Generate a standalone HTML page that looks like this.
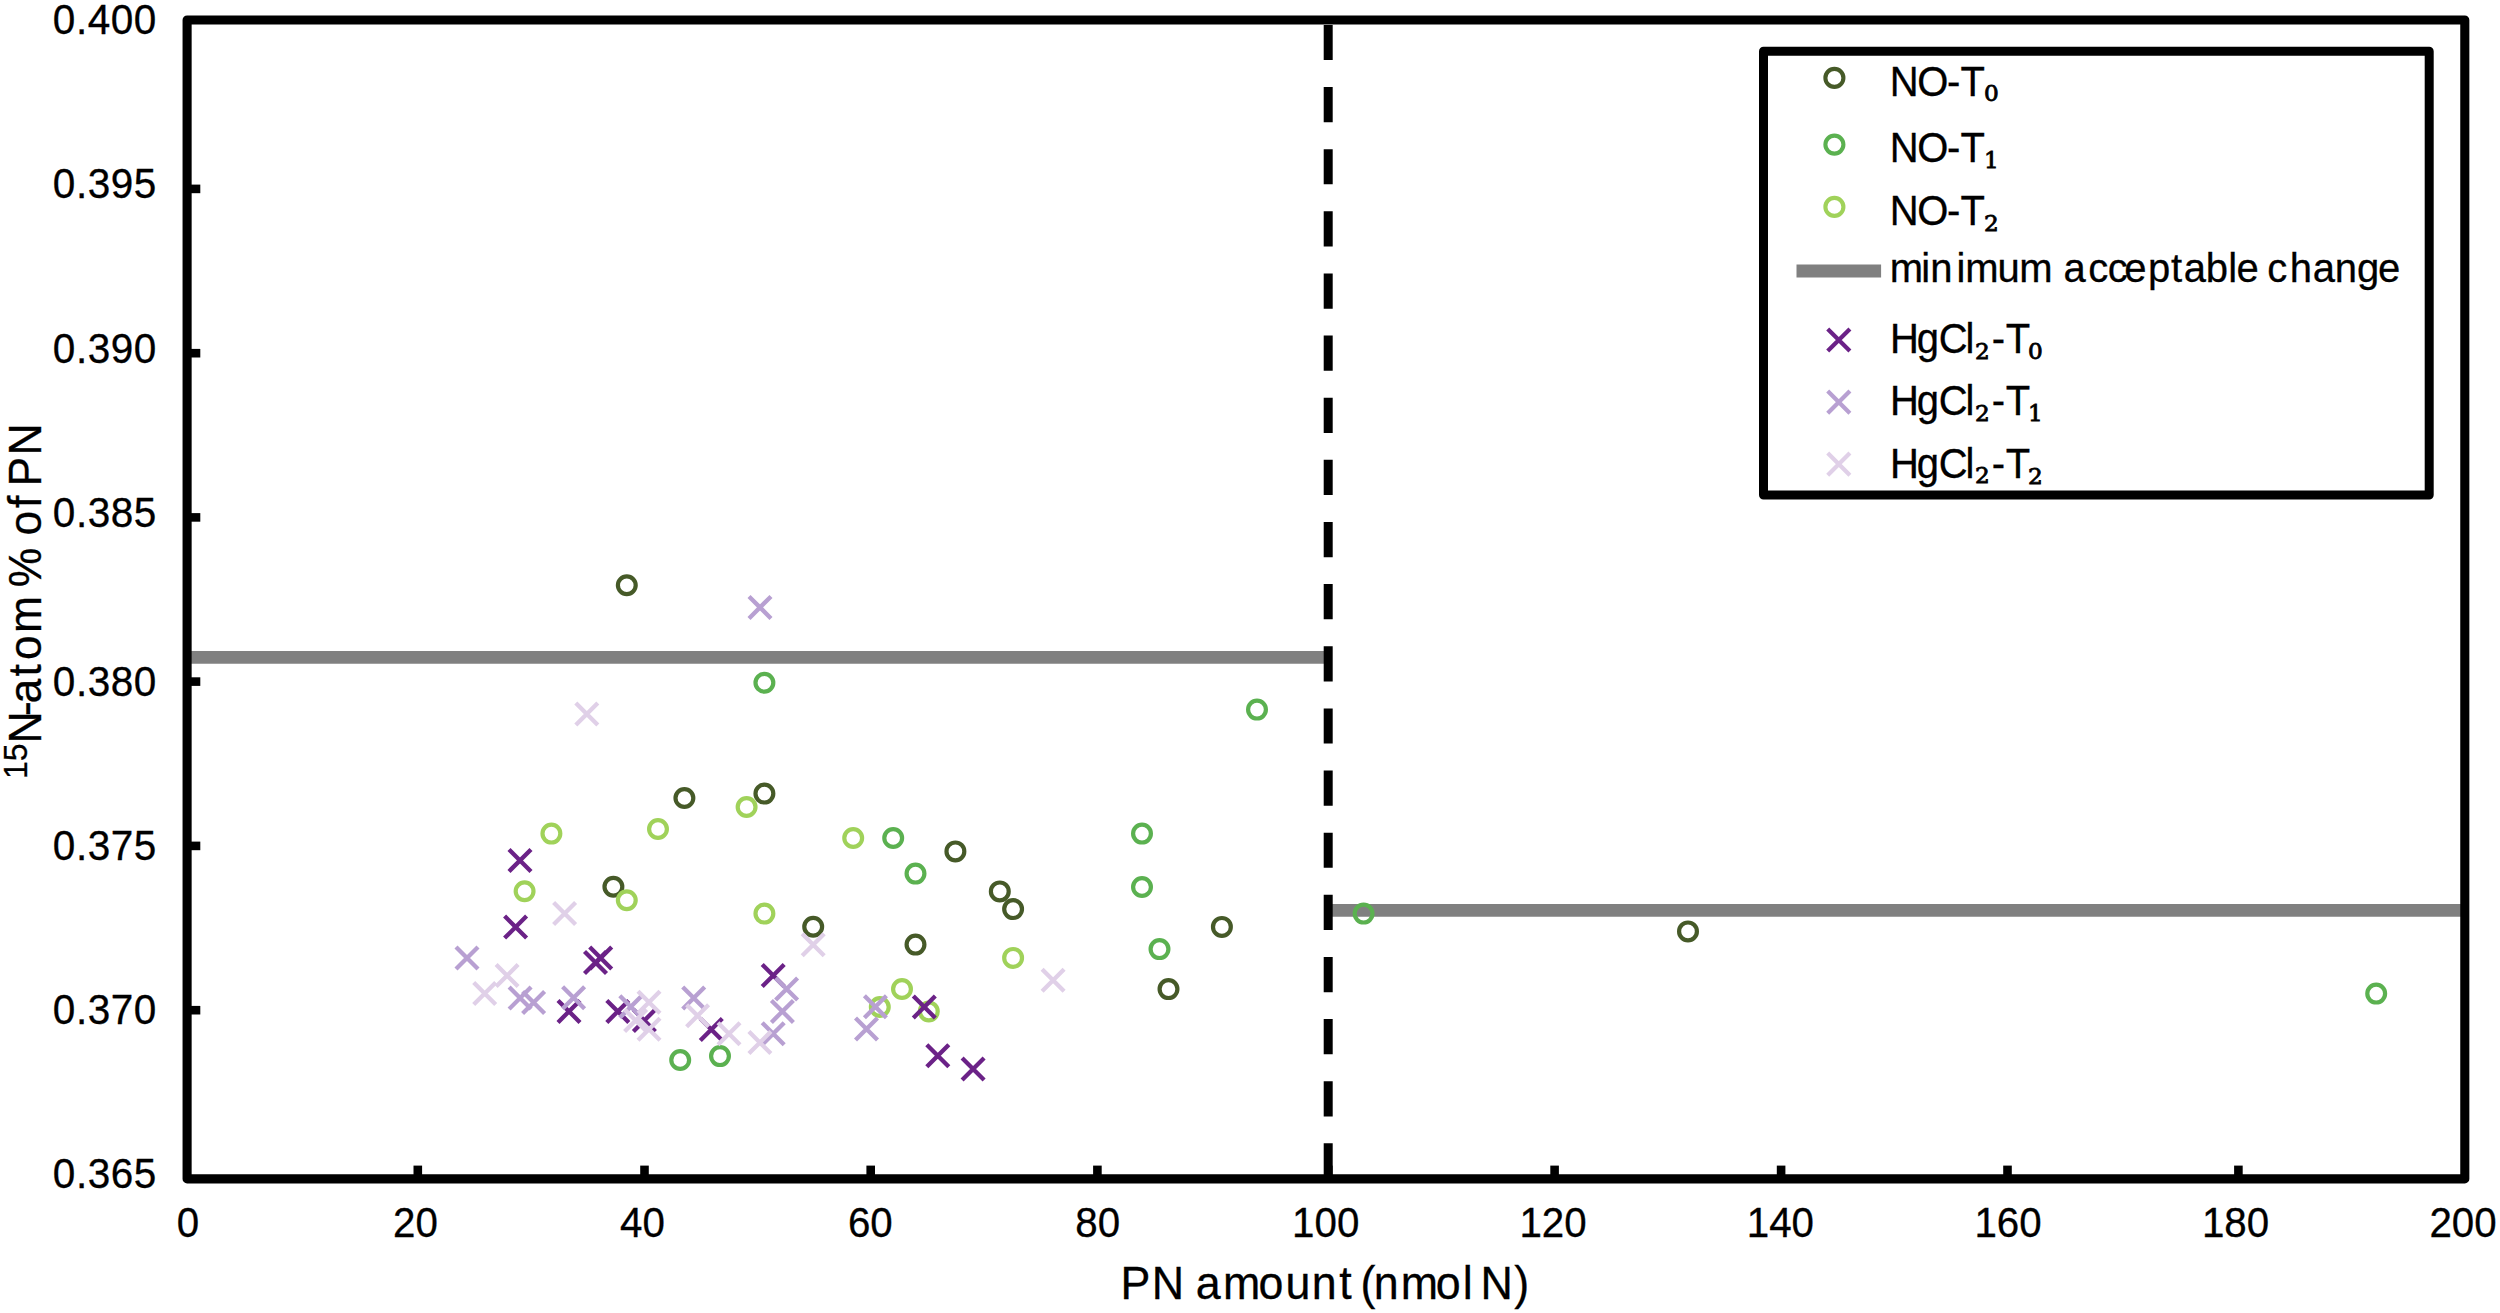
<!DOCTYPE html>
<html lang="en"><head><meta charset="utf-8"><title>15N-atom % of PN vs PN amount</title>
<style>html,body{margin:0;padding:0;background:#fff}svg{display:block}text{font-family:"Liberation Sans", sans-serif;fill:#000}.s{font-family:"DejaVu Serif", "Liberation Serif", serif}</style></head><body>
<svg width="2500" height="1313" viewBox="0 0 2500 1313">
<rect width="2500" height="1313" fill="#fff"/>
<g stroke="#808080" stroke-width="12.8" fill="none">
<line x1="187" y1="657.4" x2="1326" y2="657.4"/>
<line x1="1330" y1="910.3" x2="2465" y2="910.3"/>
</g>
<g stroke="#000" stroke-width="8.6" fill="none">
<line x1="187" y1="188.9" x2="200.3" y2="188.9"/>
<line x1="187" y1="353.2" x2="200.3" y2="353.2"/>
<line x1="187" y1="517.4" x2="200.3" y2="517.4"/>
<line x1="187" y1="681.6" x2="200.3" y2="681.6"/>
<line x1="187" y1="845.9" x2="200.3" y2="845.9"/>
<line x1="187" y1="1010.2" x2="200.3" y2="1010.2"/>
<line x1="417.8" y1="1179" x2="417.8" y2="1165.6"/>
<line x1="644.5" y1="1179" x2="644.5" y2="1165.6"/>
<line x1="870.7" y1="1179" x2="870.7" y2="1165.6"/>
<line x1="1097.4" y1="1179" x2="1097.4" y2="1165.6"/>
<line x1="1328.3" y1="1179" x2="1328.3" y2="1165.6"/>
<line x1="1554.6" y1="1179" x2="1554.6" y2="1165.6"/>
<line x1="1781.1" y1="1179" x2="1781.1" y2="1165.6"/>
<line x1="2007.5" y1="1179" x2="2007.5" y2="1165.6"/>
<line x1="2238.4" y1="1179" x2="2238.4" y2="1165.6"/>
</g>
<g fill="none" stroke="#465a28" stroke-width="4.2">
<circle cx="626.8" cy="585.2" r="8.9"/>
<circle cx="684.4" cy="798" r="8.9"/>
<circle cx="764.4" cy="793.6" r="8.9"/>
<circle cx="613.4" cy="886.8" r="8.9"/>
<circle cx="813.2" cy="926.8" r="8.9"/>
<circle cx="915.5" cy="944.6" r="8.9"/>
<circle cx="955.4" cy="851.4" r="8.9"/>
<circle cx="999.8" cy="891.4" r="8.9"/>
<circle cx="1013.1" cy="909.1" r="8.9"/>
<circle cx="1221.9" cy="926.9" r="8.9"/>
<circle cx="1168.5" cy="989.1" r="8.9"/>
<circle cx="1688" cy="931.4" r="8.9"/>
</g>
<g fill="none" stroke="#5bb150" stroke-width="4.2">
<circle cx="764.4" cy="682.8" r="8.9"/>
<circle cx="893.2" cy="838" r="8.9"/>
<circle cx="915.5" cy="873.6" r="8.9"/>
<circle cx="1257" cy="709.6" r="8.9"/>
<circle cx="1142" cy="833.6" r="8.9"/>
<circle cx="1142" cy="887" r="8.9"/>
<circle cx="1363.6" cy="913.6" r="8.9"/>
<circle cx="1159.5" cy="949.1" r="8.9"/>
<circle cx="2376.2" cy="993.6" r="8.9"/>
<circle cx="680.2" cy="1060" r="8.9"/>
<circle cx="720" cy="1056.1" r="8.9"/>
</g>
<g fill="none" stroke="#a0d25a" stroke-width="4.2">
<circle cx="746.6" cy="807" r="8.9"/>
<circle cx="658" cy="829" r="8.9"/>
<circle cx="551.4" cy="833.6" r="8.9"/>
<circle cx="853.2" cy="838" r="8.9"/>
<circle cx="524.6" cy="891.2" r="8.9"/>
<circle cx="626.8" cy="900.2" r="8.9"/>
<circle cx="764.4" cy="913.6" r="8.9"/>
<circle cx="902" cy="989" r="8.9"/>
<circle cx="879.8" cy="1007" r="8.9"/>
<circle cx="928.8" cy="1011.4" r="8.9"/>
<circle cx="1013.1" cy="957.9" r="8.9"/>
</g>
<line x1="1328.2" y1="24.9" x2="1328.2" y2="1179" stroke="#000" stroke-width="9" stroke-dasharray="35.2 26.935"/>
<g fill="none" stroke="#6b2287" stroke-width="4.3">
<path d="M509.0 849.4L531.0 871.4M509.0 871.4L531.0 849.4"/>
<path d="M504.6 916.1L526.6 938.1M504.6 938.1L526.6 916.1"/>
<path d="M584.5 951.4L606.5 973.4M584.5 973.4L606.5 951.4"/>
<path d="M589.7 946.9L611.7 968.9M589.7 968.9L611.7 946.9"/>
<path d="M762.2 964.5L784.2 986.5M762.2 986.5L784.2 964.5"/>
<path d="M558.0 1000.4L580.0 1022.4M558.0 1022.4L580.0 1000.4"/>
<path d="M606.8 1000.4L628.8 1022.4M606.8 1022.4L628.8 1000.4"/>
<path d="M633.4 1009.5L655.4 1031.5M633.4 1031.5L655.4 1009.5"/>
<path d="M700.3 1018.4L722.3 1040.4M700.3 1040.4L722.3 1018.4"/>
<path d="M913.3 995.9L935.3 1017.9M913.3 1017.9L935.3 995.9"/>
<path d="M926.8 1044.8L948.8 1066.8M926.8 1066.8L948.8 1044.8"/>
<path d="M962.1 1058.1L984.1 1080.1M962.1 1080.1L984.1 1058.1"/>
</g>
<g fill="none" stroke="#b8a0d2" stroke-width="4.3">
<path d="M749.0 596.4L771.0 618.4M749.0 618.4L771.0 596.4"/>
<path d="M456.0 947.1L478.0 969.1M456.0 969.1L478.0 947.1"/>
<path d="M509.1 987.1L531.1 1009.1M509.1 1009.1L531.1 987.1"/>
<path d="M522.6 991.5L544.6 1013.5M522.6 1013.5L544.6 991.5"/>
<path d="M562.6 986.8L584.6 1008.8M562.6 1008.8L584.6 986.8"/>
<path d="M619.8 995.8L641.8 1017.8M619.8 1017.8L641.8 995.8"/>
<path d="M682.7 987.0L704.7 1009.0M682.7 1009.0L704.7 987.0"/>
<path d="M775.6 978.0L797.6 1000.0M775.6 1000.0L797.6 978.0"/>
<path d="M771.4 1000.4L793.4 1022.4M771.4 1022.4L793.4 1000.4"/>
<path d="M762.2 1022.7L784.2 1044.7M762.2 1044.7L784.2 1022.7"/>
<path d="M864.4 995.8L886.4 1017.8M864.4 1017.8L886.4 995.8"/>
<path d="M855.5 1018.0L877.5 1040.0M855.5 1040.0L877.5 1018.0"/>
</g>
<g fill="none" stroke="#e0d0e8" stroke-width="4.3">
<path d="M575.8 703.0L597.8 725.0M575.8 725.0L597.8 703.0"/>
<path d="M553.6 902.6L575.6 924.6M553.6 924.6L575.6 902.6"/>
<path d="M802.2 933.7L824.2 955.7M802.2 955.7L824.2 933.7"/>
<path d="M496.1 964.6L518.1 986.6M496.1 986.6L518.1 964.6"/>
<path d="M473.7 982.5L495.7 1004.5M473.7 1004.5L495.7 982.5"/>
<path d="M638.0 991.3L660.0 1013.3M638.0 1013.3L660.0 991.3"/>
<path d="M624.6 1009.5L646.6 1031.5M624.6 1031.5L646.6 1009.5"/>
<path d="M638.0 1018.3L660.0 1040.3M638.0 1040.3L660.0 1018.3"/>
<path d="M686.6 1004.7L708.6 1026.7M686.6 1026.7L708.6 1004.7"/>
<path d="M718.0 1022.7L740.0 1044.7M718.0 1044.7L740.0 1022.7"/>
<path d="M748.9 1031.6L770.9 1053.6M748.9 1053.6L770.9 1031.6"/>
<path d="M1042.1 969.3L1064.1 991.3M1042.1 991.3L1064.1 969.3"/>
</g>
<rect x="187.1" y="20" width="2277.7" height="1158.9" fill="none" stroke="#000" stroke-width="9.1" stroke-linejoin="round"/>
<text transform="translate(156.9 33.8) scale(1 1.05)" font-size="40.5" text-anchor="end" letter-spacing="0.55" stroke="#000" stroke-width="0.3">0.400</text>
<text transform="translate(156.9 198.2) scale(1 1.05)" font-size="40.5" text-anchor="end" letter-spacing="0.55" stroke="#000" stroke-width="0.3">0.395</text>
<text transform="translate(156.9 362.6) scale(1 1.05)" font-size="40.5" text-anchor="end" letter-spacing="0.55" stroke="#000" stroke-width="0.3">0.390</text>
<text transform="translate(156.9 526.8) scale(1 1.05)" font-size="40.5" text-anchor="end" letter-spacing="0.55" stroke="#000" stroke-width="0.3">0.385</text>
<text transform="translate(156.9 695.5) scale(1 1.05)" font-size="40.5" text-anchor="end" letter-spacing="0.55" stroke="#000" stroke-width="0.3">0.380</text>
<text transform="translate(156.9 859.8) scale(1 1.05)" font-size="40.5" text-anchor="end" letter-spacing="0.55" stroke="#000" stroke-width="0.3">0.375</text>
<text transform="translate(156.9 1024.1) scale(1 1.05)" font-size="40.5" text-anchor="end" letter-spacing="0.55" stroke="#000" stroke-width="0.3">0.370</text>
<text transform="translate(156.9 1188.2) scale(1 1.05)" font-size="40.5" text-anchor="end" letter-spacing="0.55" stroke="#000" stroke-width="0.3">0.365</text>
<text transform="translate(188 1237.3) scale(1 1.05)" font-size="40.3" text-anchor="middle" stroke="#000" stroke-width="0.3">0</text>
<text transform="translate(415.5 1237.3) scale(1 1.05)" font-size="40.3" text-anchor="middle" stroke="#000" stroke-width="0.3">20</text>
<text transform="translate(642.5 1237.3) scale(1 1.05)" font-size="40.3" text-anchor="middle" stroke="#000" stroke-width="0.3">40</text>
<text transform="translate(870.3 1237.3) scale(1 1.05)" font-size="40.3" text-anchor="middle" stroke="#000" stroke-width="0.3">60</text>
<text transform="translate(1097.7 1237.3) scale(1 1.05)" font-size="40.3" text-anchor="middle" stroke="#000" stroke-width="0.3">80</text>
<text transform="translate(1325.7 1237.3) scale(1 1.05)" font-size="40.3" text-anchor="middle" stroke="#000" stroke-width="0.3">100</text>
<text transform="translate(1553 1237.3) scale(1 1.05)" font-size="40.3" text-anchor="middle" stroke="#000" stroke-width="0.3">120</text>
<text transform="translate(1780.4 1237.3) scale(1 1.05)" font-size="40.3" text-anchor="middle" stroke="#000" stroke-width="0.3">140</text>
<text transform="translate(2008 1237.3) scale(1 1.05)" font-size="40.3" text-anchor="middle" stroke="#000" stroke-width="0.3">160</text>
<text transform="translate(2235.5 1237.3) scale(1 1.05)" font-size="40.3" text-anchor="middle" stroke="#000" stroke-width="0.3">180</text>
<text transform="translate(2463 1237.3) scale(1 1.05)" font-size="40.3" text-anchor="middle" stroke="#000" stroke-width="0.3">200</text>
<text transform="translate(1120.42 1298.7) scale(1 1.025)" font-size="44.8" stroke="#000" stroke-width="0.3" dx="0 1.42 0 -0.73 2.31 -1.82 1.95 1.42 2.58 0 -3.69 -1.62 2.09 -2.23 1.85 0 -4.45 1.35">PN amount (nmol N)</text>
<text transform="translate(40.7 779.0) rotate(-90) scale(1 1.025)" font-size="44.5" stroke="#000" stroke-width="0.3"><tspan font-size="32" dy="-12.9">15</tspan><tspan dy="12.9" dx="0 -4.71 -2.43 2.37 4.04 2.26 0 -3.56 0 -0.11 2.59 0 -3.15 1.22">N-atom % of PN</tspan></text>
<rect x="1763.5" y="51.3" width="665.7" height="443.7" fill="#fff" stroke="#000" stroke-width="9" stroke-linejoin="round"/>
<g fill="none" stroke-width="4.1">
<circle cx="1834.4" cy="77.9" r="9" stroke="#465a28"/>
<circle cx="1834.4" cy="144.6" r="9" stroke="#5bb150"/>
<circle cx="1834.4" cy="206.9" r="9" stroke="#a0d25a"/>
</g>
<line x1="1796.5" y1="271" x2="1881.1" y2="271" stroke="#808080" stroke-width="13.2"/>
<path d="M1827.7 328.9L1849.9 351.1M1827.7 351.1L1849.9 328.9" fill="none" stroke="#6b2287" stroke-width="4.2"/>
<path d="M1827.7 391.1L1849.9 413.3M1827.7 413.3L1849.9 391.1" fill="none" stroke="#b8a0d2" stroke-width="4.2"/>
<path d="M1827.7 453.1L1849.9 475.3M1827.7 475.3L1849.9 453.1" fill="none" stroke="#e0d0e8" stroke-width="4.2"/>
<text transform="translate(1889.72 95.6) scale(1 1.04)" font-size="40" stroke="#000" stroke-width="0.3" dx="0 -1.3 -1.3 0.16">NO-T</text>
<text class="s" transform="translate(1983.9 101.3) scale(1.083 1)" font-size="21.4" stroke="#000" stroke-width="0.8">0</text>
<text transform="translate(1889.72 162.4) scale(1 1.04)" font-size="40" stroke="#000" stroke-width="0.3" dx="0 -1.3 -1.3 0.16">NO-T</text>
<text class="s" transform="translate(1983.9 168.1) scale(1.083 1)" font-size="21.4" stroke="#000" stroke-width="0.8">1</text>
<text transform="translate(1889.72 225.2) scale(1 1.04)" font-size="40" stroke="#000" stroke-width="0.3" dx="0 -1.3 -1.3 0.16">NO-T</text>
<text class="s" transform="translate(1983.9 230.89999999999998) scale(1.083 1)" font-size="21.4" stroke="#000" stroke-width="0.8">2</text>
<text transform="translate(1889.74 282.4)" font-size="40" stroke="#000" stroke-width="0.3" dx="0 -1.74 0.13 3.84 0.03 -1.26 -0.51 0 -0.07 2.35 -0.5 -3.3 1.48 0.72 1.6 -0.23 0.14 -0.69 0 -2.56 2.52 0.83 -0.2 -0.17 -1.27">minimum acceptable change</text>
<text transform="translate(1889.98 353.4) scale(1 1.04)" font-size="40" stroke="#000" stroke-width="0.3" dx="0 -2.05 -0.29 -2.05">HgCl</text>
<text class="s" transform="translate(1974.9 358.7) scale(1.083 1)" font-size="21.4" stroke="#000" stroke-width="0.8">2</text>
<text transform="translate(1991.72 353.4) scale(1 1.04)" font-size="40" stroke="#000" stroke-width="0.3" dx="0 0.76">-T</text>
<text class="s" transform="translate(2028.1 358.9) scale(1.083 1)" font-size="21.4" stroke="#000" stroke-width="0.8">0</text>
<text transform="translate(1889.98 415.3) scale(1 1.04)" font-size="40" stroke="#000" stroke-width="0.3" dx="0 -2.05 -0.29 -2.05">HgCl</text>
<text class="s" transform="translate(1974.9 420.6) scale(1.083 1)" font-size="21.4" stroke="#000" stroke-width="0.8">2</text>
<text transform="translate(1991.72 415.3) scale(1 1.04)" font-size="40" stroke="#000" stroke-width="0.3" dx="0 0.76">-T</text>
<text class="s" transform="translate(2028.1 420.8) scale(1.083 1)" font-size="21.4" stroke="#000" stroke-width="0.8">1</text>
<text transform="translate(1889.98 478.1) scale(1 1.04)" font-size="40" stroke="#000" stroke-width="0.3" dx="0 -2.05 -0.29 -2.05">HgCl</text>
<text class="s" transform="translate(1974.9 483.40000000000003) scale(1.083 1)" font-size="21.4" stroke="#000" stroke-width="0.8">2</text>
<text transform="translate(1991.72 478.1) scale(1 1.04)" font-size="40" stroke="#000" stroke-width="0.3" dx="0 0.76">-T</text>
<text class="s" transform="translate(2028.1 483.6) scale(1.083 1)" font-size="21.4" stroke="#000" stroke-width="0.8">2</text>
</svg></body></html>
